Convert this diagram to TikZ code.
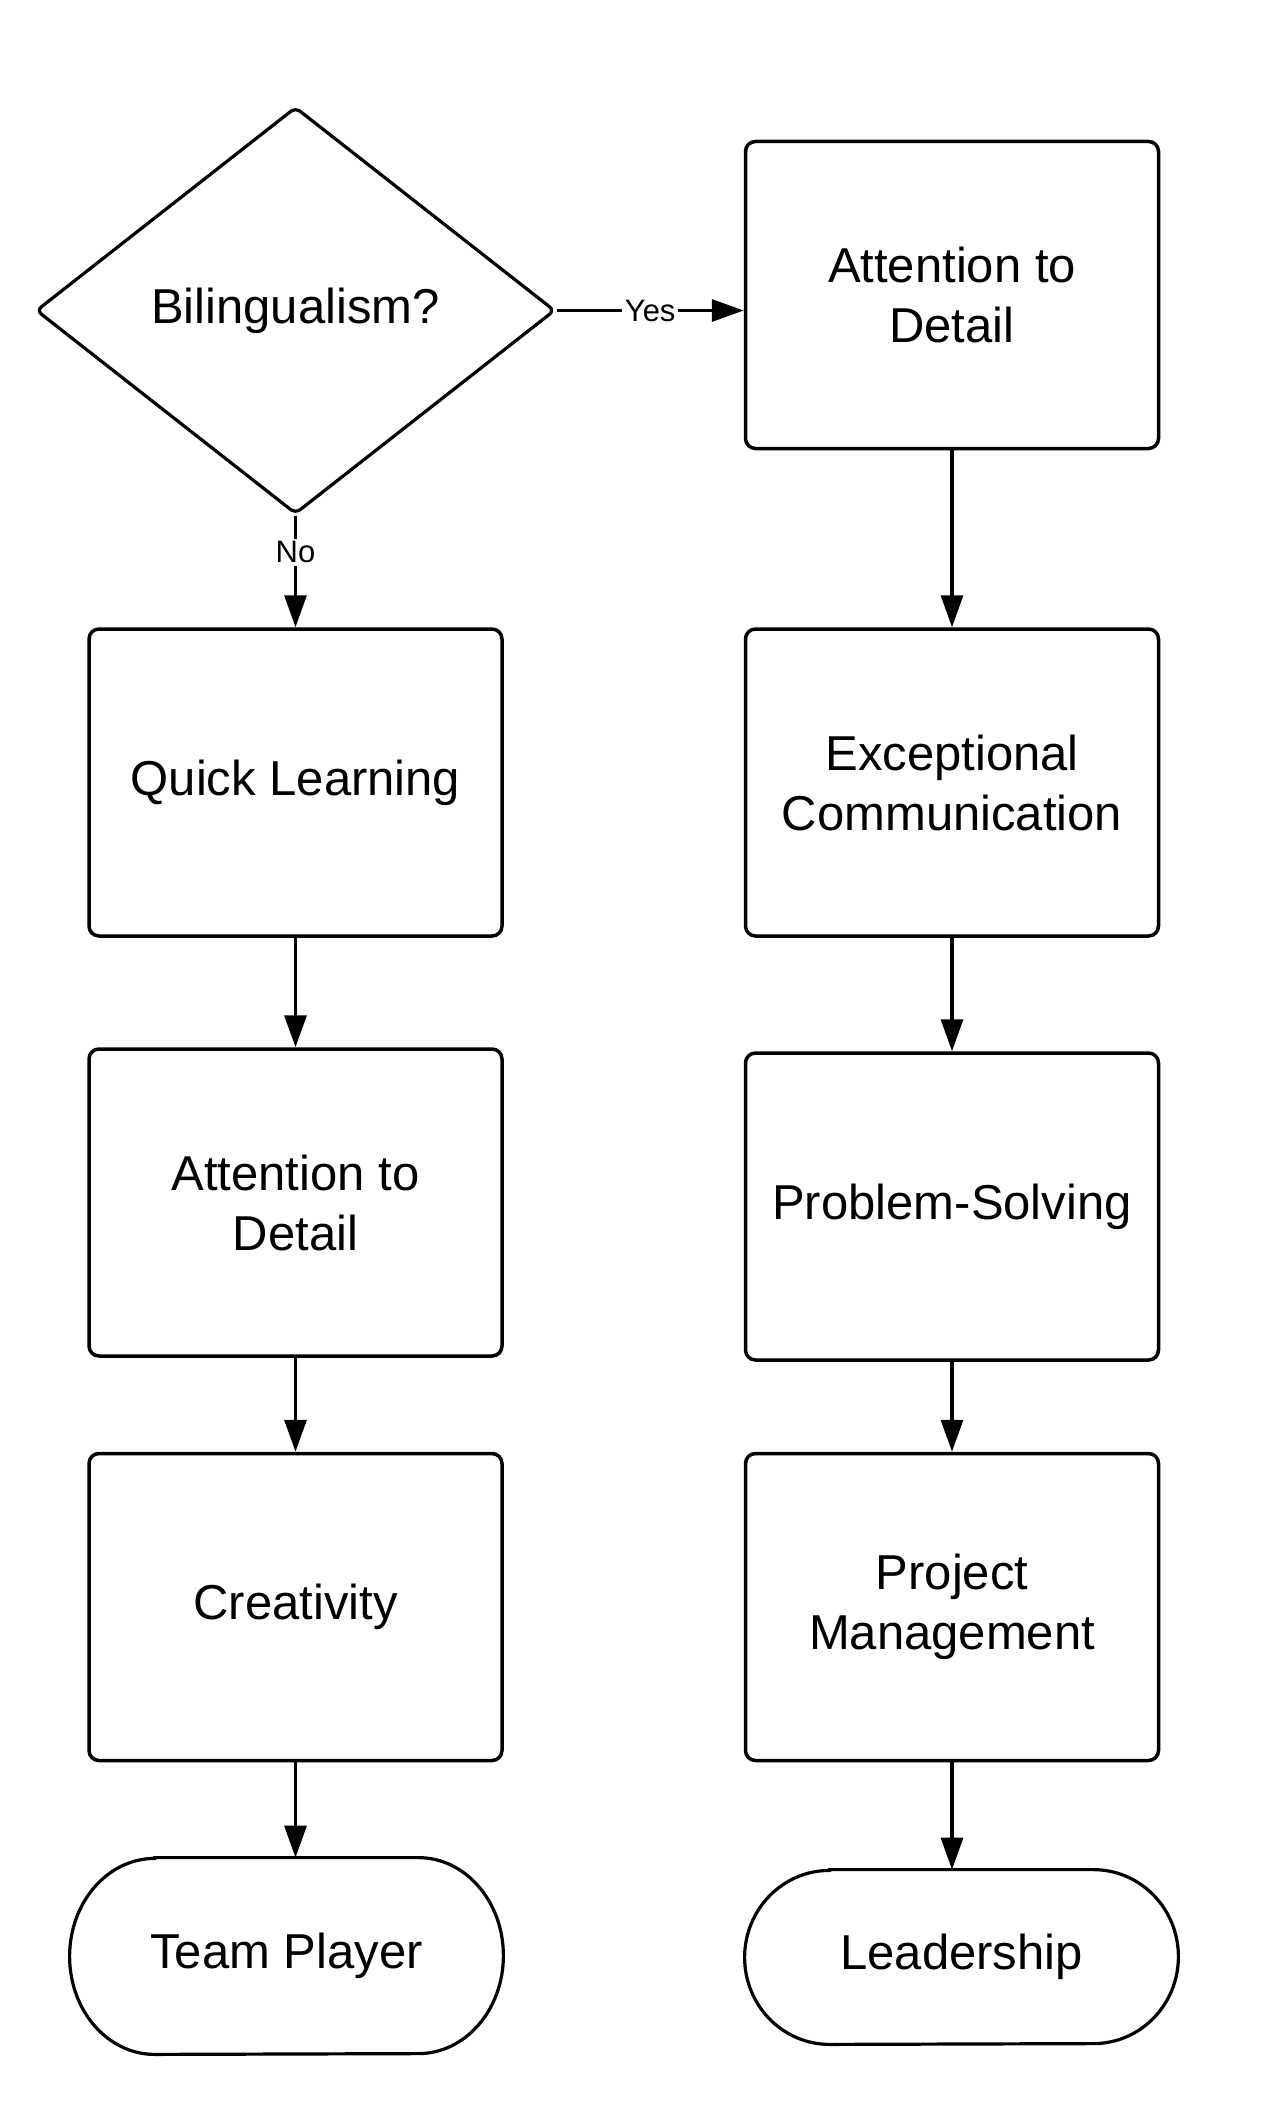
\documentclass[tikz,border=0pt]{standalone}
\usepackage{fontspec}
\setmainfont{Liberation Sans}
\usetikzlibrary{shapes.geometric,arrows.meta}
\tikzset{
  txt/.style={font=\fontsize{24.5}{30}\selectfont, align=center},
  box/.style={txt, draw, line width=1.75pt, rounded corners=5pt, minimum width=206.5pt, minimum height=153.5pt, inner sep=0pt},
  decision/.style={txt, draw, diamond, line width=1.6pt, rounded corners=3pt, minimum width=259.5pt, minimum height=203.5pt, inner sep=0pt},
  termnode/.style={txt, draw=none, minimum width=216.5pt, inner sep=0pt},
  termline/.style={line width=1.6pt},
  conn/.style={line width=1.6pt, -{Triangle[length=16pt,width=11pt]}},
  lbl/.style={fill=white, font=\fontsize{15.5}{18}\selectfont, inner sep=1.5pt},
}
\begin{document}
\begin{tikzpicture}[x=0.5pt, y=-0.5pt]
\useasboundingbox[fill=white] (0,0) rectangle (1266,2124);

\node[decision] (dec) at (295.5,310.5) {Bilingualism?};
\node[box] (r1) at (952,295) {Attention to\\Detail};
\node[box] (l1) at (295.5,782.5) {Quick Learning};
\node[box] (r2) at (952,782.5) {Exceptional\\Communication};
\node[box] (l2) at (295.5,1202.5) {Attention to\\Detail};
\node[box] (r3) at (952,1206.5) {Problem-Solving};
\node[box] (l3) at (295.5,1607) {Creativity};
\node[box] (r4) at (952,1607) {Project\\Management};
\node[termnode, minimum height=98pt] (tp) at (286.5,1956) {Team Player};
\node[termnode, minimum height=87pt] (ld) at (961.5,1957) {Leadership};

\draw[termline] ([xshift=42.5pt]tp.north west) -- ([xshift=-42.5pt]tp.north east)
  arc[start angle=90, end angle=-90, x radius=42.5pt, y radius=49pt]
  -- ([xshift=42.5pt]tp.south west)
  arc[start angle=270, end angle=90, x radius=42.5pt, y radius=49pt] -- cycle;
\draw[termline] ([xshift=42.5pt]ld.north west) -- ([xshift=-42.5pt]ld.north east)
  arc[start angle=90, end angle=-90, x radius=42.5pt, y radius=43.5pt]
  -- ([xshift=42.5pt]ld.south west)
  arc[start angle=270, end angle=90, x radius=42.5pt, y radius=43.5pt] -- cycle;

\draw[conn] (dec.east) -- node[lbl, pos=0.5] {Yes} (dec.east -| r1.west);
\draw[conn] (dec.south) -- node[lbl, pos=0.33] {No} (l1.north);
\draw[conn] (r1.south) -- (r2.north);
\draw[conn] (r2.south) -- (r3.north);
\draw[conn] (r3.south) -- (r4.north);
\draw[conn] (r4.south) -- (r4.south |- ld.north);
\draw[conn] (l1.south) -- (l2.north);
\draw[conn] (l2.south) -- (l3.north);
\draw[conn] (l3.south) -- (l3.south |- tp.north);
\end{tikzpicture}
\end{document}
